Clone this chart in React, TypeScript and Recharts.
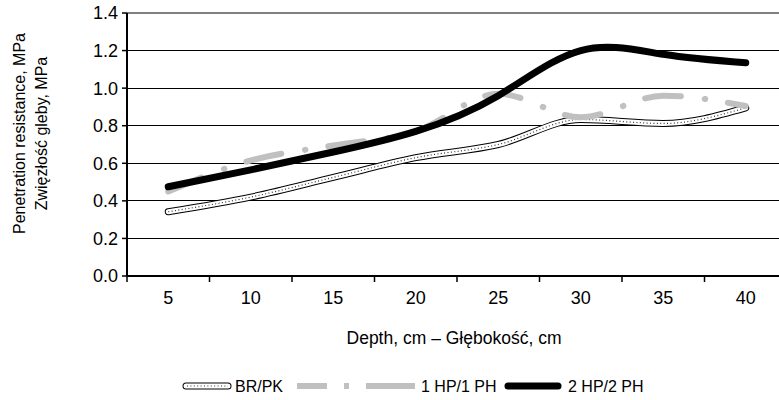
import React from 'react';
import { LineChart, Line, XAxis, YAxis, CartesianGrid, ReferenceLine } from 'recharts';

const depthCategories = [5, 10, 15, 20, 25, 30, 35, 40];
const depthTickBounds = [2.5, 7.5, 12.5, 17.5, 22.5, 27.5, 32.5, 37.5, 42.5];
const brPkValues = [0.342, 0.42, 0.525, 0.63, 0.7, 0.833, 0.812, 0.895];
const hp1Values = [0.45, 0.615, 0.695, 0.77, 0.97, 0.845, 0.96, 0.905];
const hp2Values = [0.475, 0.565, 0.66, 0.77, 0.96, 1.2, 1.18, 1.135];
const yTicks = [0, 0.2, 0.4, 0.6, 0.8, 1.0, 1.2, 1.4];
const seriesNames = ['BR/PK', '1 HP/1 PH', '2 HP/2 PH'];
const yTitleLines = ['Penetration resistance, MPa', 'Zwięzłość gleby, MPa'];
const xTitle = 'Depth, cm – Głębokość, cm';

const data = depthCategories.map((d, i) => ({
  depth: d,
  brpk: brPkValues[i],
  hp1: hp1Values[i],
  hp2: hp2Values[i],
}));

const FONT = '"Liberation Sans", Arial, Helvetica, sans-serif';
const FS = 16;
const TICK_FS = 18;
const CHART_W = 787;
const CHART_H = 400;
const Y_AXIS_W = 127;
const PLOT_W = CHART_W - Y_AXIS_W;
const GRAY = '#c0c0c0';

const XTick = (props: any) => {
  const { x, y, index } = props;
  if (index >= depthCategories.length) return null;
  const half = PLOT_W / depthCategories.length / 2;
  return (
    <text x={x + half} y={y} dy="0.71em" textAnchor="middle" fill="#000" fontSize={TICK_FS} fontFamily={FONT}>
      {depthCategories[index]}
    </text>
  );
};

const YTick = (props: any) => {
  const { x, y, payload } = props;
  return (
    <text x={x} y={y} dy="0.36em" textAnchor="end" fill="#000" fontSize={TICK_FS} fontFamily={FONT}>
      {Number(payload.value).toFixed(1)}
    </text>
  );
};

const YTitle = (props: any) => {
  const vb = props.viewBox || { y: 13, height: 263 };
  const cy = vb.y + vb.height / 2 - 11;
  return (
    <g>
      {yTitleLines.map((t, i) => {
        const cx = 25 + i * 22;
        return (
          <text key={i} x={cx} y={cy} transform={`rotate(-90 ${cx} ${cy})`} textAnchor="middle" fill="#000" fontSize={FS} fontFamily={FONT}>
            {t}
          </text>
        );
      })}
    </g>
  );
};

const XTitle = (props: any) => {
  const vb = props.viewBox || { x: 127, y: 276, width: 660 };
  return (
    <text x={vb.x + vb.width / 2 - 3} y={344} textAnchor="middle" fill="#000" fontSize={17.5} fontFamily={FONT}>
      {xTitle}
    </text>
  );
};

const Legend = () => (
  <svg width={779} height={30} style={{ position: 'absolute', left: 0, top: 372 }}>
    <g>
      <line x1={186} y1={14} x2={228} y2={14} stroke="#000" strokeWidth={7} strokeLinecap="round" />
      <line x1={186} y1={14} x2={228} y2={14} stroke="#fff" strokeWidth={5} strokeLinecap="round" />
      <line x1={187} y1={14} x2={228} y2={14} stroke="#333" strokeWidth={1.2} strokeDasharray="1 2.4" />
      <text x={235} y={14} dy="0.36em" fontSize={FS} fontFamily={FONT} fill="#000">{seriesNames[0]}</text>
    </g>
    <g>
      <line x1={297} y1={14} x2={415} y2={14} stroke={GRAY} strokeWidth={6} strokeDasharray="30 17 5 17 50" />
      <text x={421} y={14} dy="0.36em" fontSize={FS} fontFamily={FONT} fill="#000">{seriesNames[1]}</text>
    </g>
    <g>
      <line x1={508} y1={14} x2={558} y2={14} stroke="#000" strokeWidth={7} strokeLinecap="round" />
      <text x={568} y={14} dy="0.36em" fontSize={FS} fontFamily={FONT} fill="#000">{seriesNames[2]}</text>
    </g>
  </svg>
);

export default function App() {
  return (
    <div style={{ position: 'absolute', left: 0, top: 0, width: 779, height: 400, overflow: 'hidden', background: '#fff' }}>
      <LineChart width={CHART_W} height={CHART_H} data={data} margin={{ top: 13, right: 0, bottom: 94, left: 0 }}>
        <CartesianGrid horizontal vertical={false} stroke="#000" strokeWidth={1} shapeRendering="crispEdges" />
        <XAxis
          dataKey="depth"
          type="number"
          domain={[2.5, 42.5]}
          ticks={depthTickBounds}
          interval={0}
          allowDataOverflow
          height={30}
          axisLine={{ stroke: '#000', strokeWidth: 2 }}
          tickLine={{ stroke: '#000', strokeWidth: 1.5 }}
          tickSize={6}
          tickMargin={9}
          tick={<XTick />}
          label={<XTitle />}
        />
        <YAxis
          domain={[0, 1.4]}
          ticks={yTicks}
          interval={0}
          width={Y_AXIS_W}
          axisLine={{ stroke: '#000', strokeWidth: 2 }}
          tickLine={{ stroke: '#000', strokeWidth: 1.5 }}
          tickSize={5}
          tickMargin={4}
          tick={<YTick />}
          label={<YTitle />}
        />
        <ReferenceLine y={1.4} stroke="#808080" strokeWidth={2} />
        <Line dataKey="brpk" type="monotone" stroke="#000" strokeWidth={7} strokeLinecap="round" dot={false} activeDot={false} isAnimationActive={false} />
        <Line dataKey="brpk" type="monotone" stroke="#fff" strokeWidth={5} strokeLinecap="round" dot={false} activeDot={false} isAnimationActive={false} />
        <Line dataKey="brpk" type="monotone" stroke="#333" strokeWidth={1.2} strokeDasharray="1 2.4" dot={false} activeDot={false} isAnimationActive={false} />
        <Line dataKey="hp1" type="monotone" stroke={GRAY} strokeWidth={6} strokeLinecap="round" strokeDasharray="36 24 0.5 23" dot={false} activeDot={false} isAnimationActive={false} />
        <Line dataKey="hp2" type="natural" stroke="#000" strokeWidth={7} strokeLinecap="round" dot={false} activeDot={false} isAnimationActive={false} />
      </LineChart>
      <Legend />
    </div>
  );
}
